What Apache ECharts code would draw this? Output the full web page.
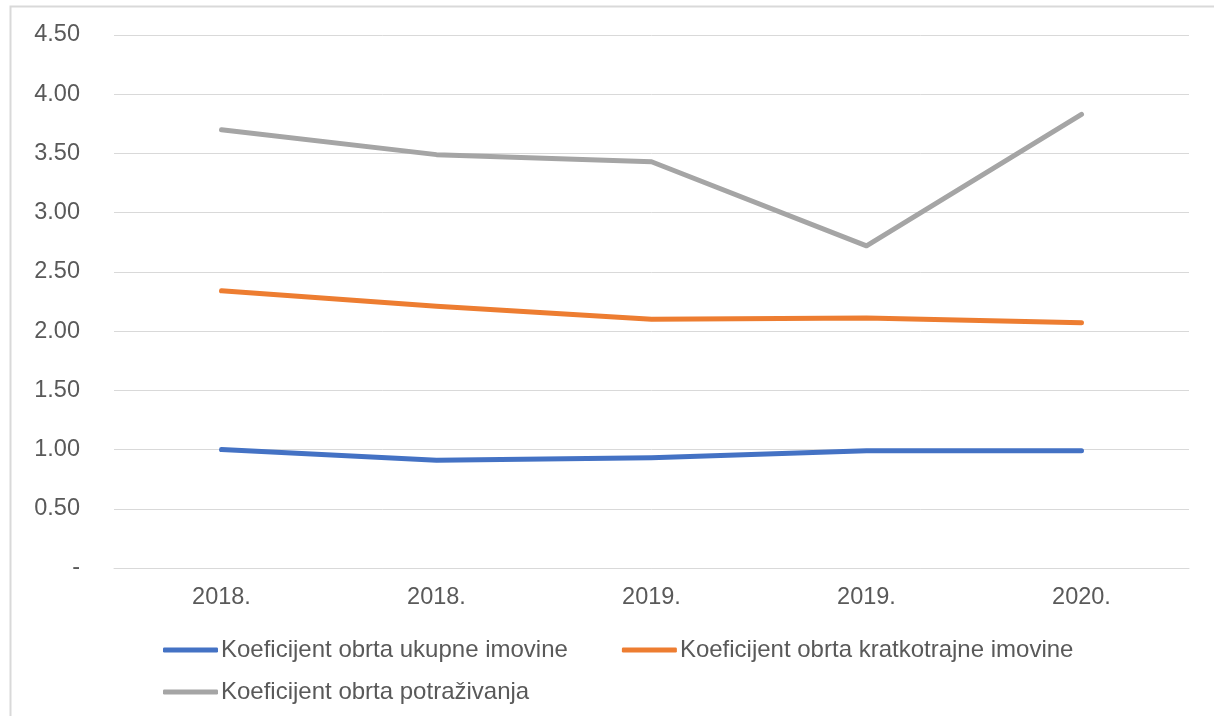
<!DOCTYPE html>
<html><head><meta charset="utf-8">
<script src="https://cdn.jsdelivr.net/npm/echarts@6/dist/echarts.min.js"></script>
<style>html,body{margin:0;padding:0;background:#fff}#c{width:1214px;height:716px}</style>
</head><body><div id="c"></div>
<script>
var categories = ['2018.', '2018.', '2019.', '2019.', '2020.'];
var seriesNames = ['Koeficijent obrta ukupne imovine', 'Koeficijent obrta kratkotrajne imovine', 'Koeficijent obrta potraživanja'];
var ukupne = [1.00, 0.91, 0.93, 0.99, 0.99];
var kratkotrajne = [2.34, 2.21, 2.10, 2.11, 2.07];
var potrazivanja = [3.70, 3.49, 3.43, 2.72, 3.83];
var colors = ['#4472C4', '#ED7D31', '#A5A5A5'];
var chart = echarts.init(document.getElementById('c'));
var font = 'Liberation Sans, Arial, sans-serif';
function ser(name, data, color) {
  return { name: name, type: 'line', data: data, symbol: 'none', lineStyle: { color: color, width: 5, cap: 'round', join: 'round' }, itemStyle: { color: color } };
}
var legendCommon = { orient: 'horizontal', itemWidth: 55, itemHeight: 5, itemGap: 54, icon: 'roundRect',
  textStyle: { fontFamily: font, fontSize: 24, color: '#595959', padding: [0, 0, 0, -2] } };
chart.setOption({
  animation: false,
  backgroundColor: '#fff',
  graphic: [{ type: 'rect', left: 8, top: 4, shape: { width: 1300, height: 800 }, style: { fill: 'none', stroke: '#D9D9D9', lineWidth: 2 } }],
  grid: { left: 114, right: 25, top: 35, bottom: 148 },
  legend: [
    Object.assign({}, legendCommon, { data: [seriesNames[0], seriesNames[1]], left: 158, top: 633 }),
    Object.assign({}, legendCommon, { data: [seriesNames[2]], left: 158, top: 675 })
  ],
  xAxis: { type: 'category', data: categories, boundaryGap: true,
    axisLine: { lineStyle: { color: '#D9D9D9', width: 1 } }, axisTick: { show: false },
    axisLabel: { fontFamily: font, fontSize: 23.5, color: '#595959', margin: 18 } },
  yAxis: { type: 'value', min: 0, max: 4.5, interval: 0.5,
    axisLine: { show: false }, axisTick: { show: false },
    splitLine: { lineStyle: { color: '#D9D9D9', width: 1 } },
    axisLabel: { fontFamily: font, fontSize: 23.5, color: '#595959', margin: 34,
      formatter: function (v) { return v === 0 ? '-' : v.toFixed(2); } } },
  series: [ser(seriesNames[0], ukupne, colors[0]), ser(seriesNames[1], kratkotrajne, colors[1]), ser(seriesNames[2], potrazivanja, colors[2])]
});
</script></body></html>
